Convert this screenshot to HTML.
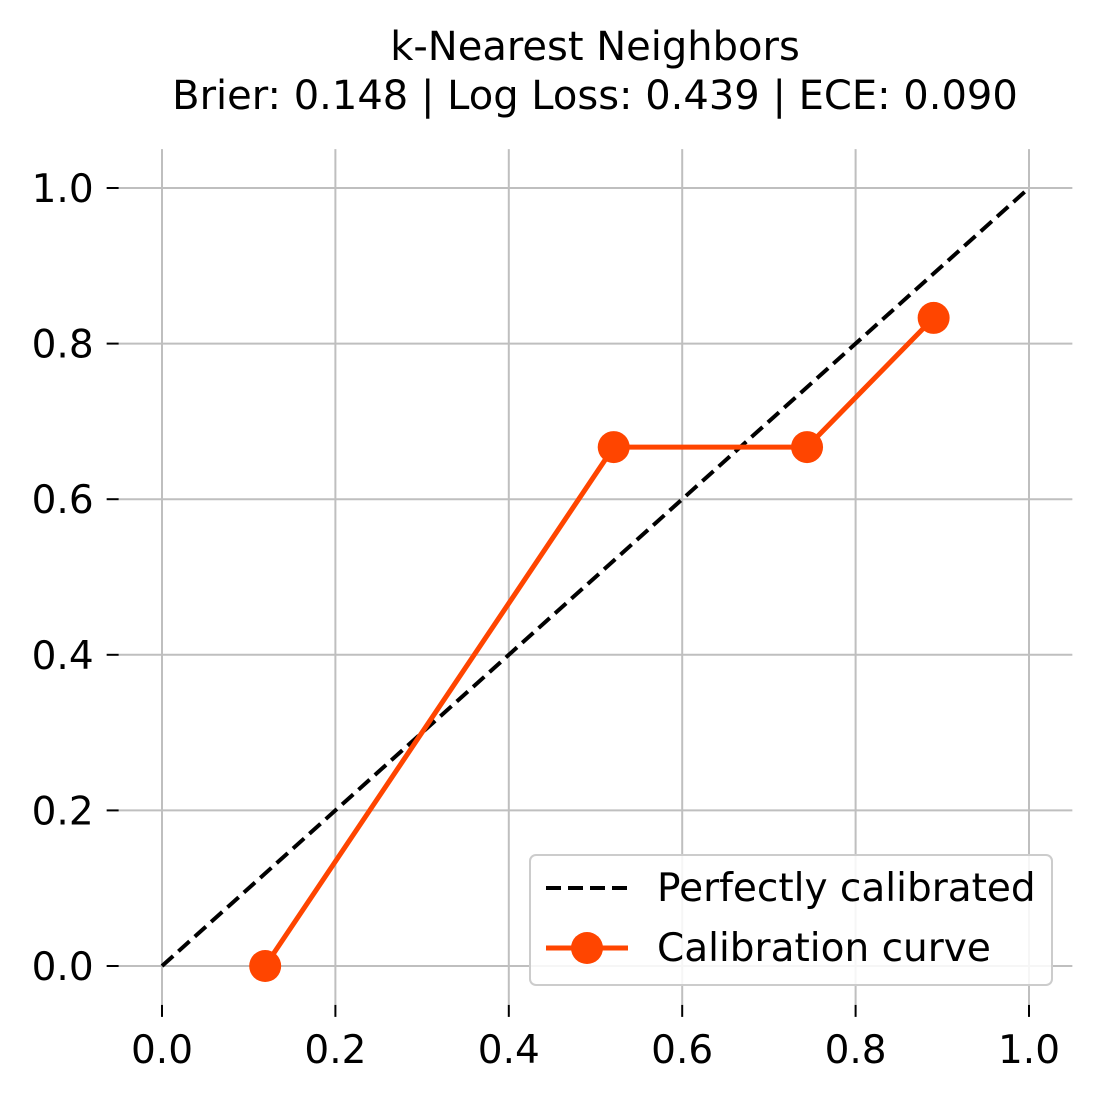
<!DOCTYPE html>
<html><head><meta charset="utf-8"><style>
html,body{margin:0;padding:0;background:#fff;}
svg{display:block;font-family:"DejaVu Sans","Liberation Sans",sans-serif;}
</style></head><body>
<svg id="chart" width="1100" height="1100" viewBox="0 0 1100 1100" xmlns="http://www.w3.org/2000/svg">
<text x="595" y="60" font-size="40" text-anchor="middle" fill="#000">k-Nearest Neighbors</text>
<text x="595" y="109" font-size="40" text-anchor="middle" fill="#000">Brier: 0.148 | Log Loss: 0.439 | ECE: 0.090</text>
<g id="grid"></g>
<g id="ticks"></g>
<g id="series"></g>
<g>
<rect x="530" y="855" width="522" height="130" rx="6" fill="#fff" fill-opacity="0.85" stroke="#ccc" stroke-width="2"/>
<line x1="546" y1="888" x2="628" y2="888" stroke="#000" stroke-width="4" stroke-dasharray="15,7"/>
<text x="657" y="901" font-size="39">Perfectly calibrated</text>
<line x1="546" y1="948" x2="628" y2="948" stroke="#ff4500" stroke-width="5"/>
<circle cx="587" cy="948" r="16" fill="#ff4500"/>
<text x="657" y="961" font-size="39">Calibration curve</text>
</g>
</svg>
<script>
const xTicks = [0, 0.2, 0.4, 0.6, 0.8, 1.0];
const yTicks = [0, 0.2, 0.4, 0.6, 0.8, 1.0];
const tickLabels = ["0.0", "0.2", "0.4", "0.6", "0.8", "1.0"];
const perfectX = [0, 1];
const perfectY = [0, 1];
const curveX = [0.119, 0.521, 0.744, 0.890];
const curveY = [0.0, 0.667, 0.667, 0.833];

const NS = "http://www.w3.org/2000/svg";
const X0 = 162, X1 = 1029, Y0 = 966, Y1 = 188;
function sx(v){ return X0 + v * (X1 - X0); }
function sy(v){ return Y0 - v * (Y0 - Y1); }
const xmin = sx(-0.05), xmax = sx(1.05), ytop = sy(1.05), ybot = sy(-0.05);
function mk(tag, attrs, parent){
  const e = document.createElementNS(NS, tag);
  for (const k in attrs) e.setAttribute(k, attrs[k]);
  parent.appendChild(e);
  return e;
}
const grid = document.getElementById('grid');
const ticks = document.getElementById('ticks');
xTicks.forEach((t, i) => {
  const l = mk('line', {x1: sx(t), x2: sx(t), y1: ytop, y2: ybot, stroke: '#bfbfbf', 'stroke-width': 2}, grid);
  
  
  const tk = mk('line', {x1: sx(t), x2: sx(t), y1: ybot, y2: ybot + 12, stroke: '#000', 'stroke-width': 2}, ticks);
  
  
  const tx = mk('text', {x: sx(t), y: ybot + 58, 'font-size': 39, 'text-anchor': 'middle'}, ticks);
  tx.textContent = tickLabels[i];
  
  
});
yTicks.forEach((t, i) => {
  const l = mk('line', {x1: xmin, x2: xmax, y1: sy(t), y2: sy(t), stroke: '#bfbfbf', 'stroke-width': 2}, grid);
  
  
  const tk = mk('line', {x1: xmin - 12, x2: xmin, y1: sy(t), y2: sy(t), stroke: '#000', 'stroke-width': 2}, ticks);
  
  
  const tx = mk('text', {x: xmin - 25, y: sy(t) + 14, 'font-size': 39, 'text-anchor': 'end'}, ticks);
  tx.textContent = tickLabels[i];
  
  
});
const series = document.getElementById('series');
const pl = mk('polyline', {points: perfectX.map((x, i) => sx(x) + ',' + sy(perfectY[i])).join(' '), fill: 'none', stroke: '#000', 'stroke-width': 4, 'stroke-dasharray': '15,7'}, series);


const cl = mk('polyline', {points: curveX.map((x, i) => sx(x) + ',' + sy(curveY[i])).join(' '), fill: 'none', stroke: '#ff4500', 'stroke-width': 5, 'stroke-linejoin': 'round'}, series);


curveX.forEach((x, i) => {
  const c = mk('circle', {cx: sx(x), cy: sy(curveY[i]), r: 16, fill: '#ff4500'}, series);
  
  
});
</script>
</body></html>
